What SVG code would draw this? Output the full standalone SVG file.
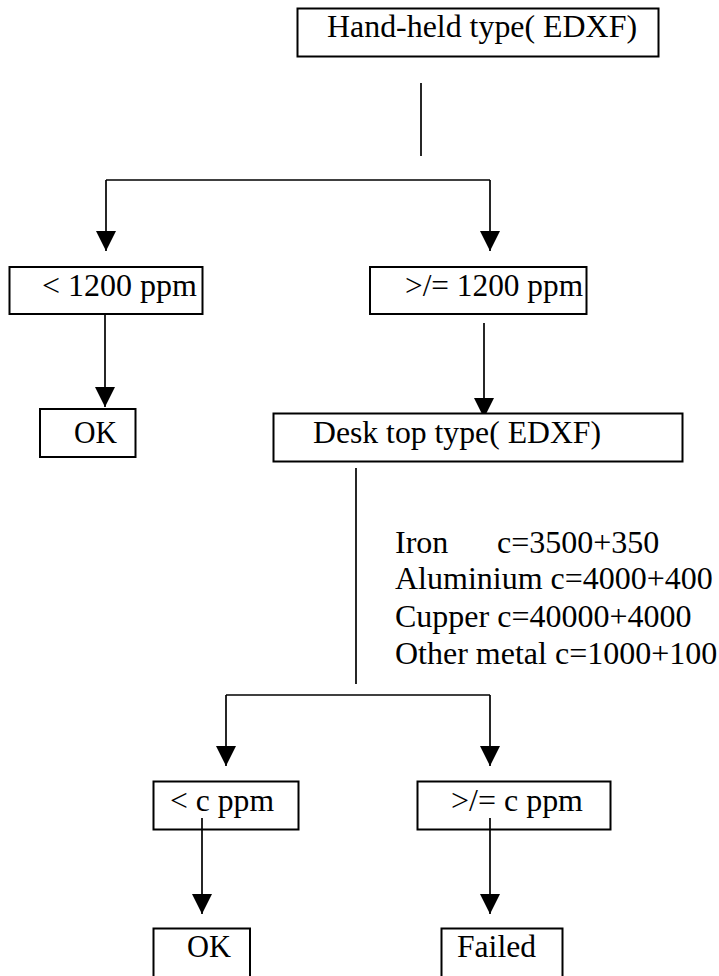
<svg xmlns="http://www.w3.org/2000/svg" width="719" height="976" viewBox="0 0 719 976">
<style>
.box{fill:#fff;stroke:#000;stroke-width:2}
.lbl{font-family:"Liberation Serif","Times New Roman",serif;font-size:32px;fill:#000}
.ln{fill:none;stroke:#000;stroke-width:1.7}
</style>
<defs>
<marker id="ah" markerUnits="userSpaceOnUse" markerWidth="20" markerHeight="20" viewBox="0 0 20 20" refX="20" refY="10" orient="auto">
<path d="M0,0 L20,10 L0,20 z" fill="#000"/>
</marker>
</defs>
<rect width="719" height="976" fill="#fff"/>
<g id="connectors">
<line class="ln" x1="421" y1="83" x2="421" y2="156"/>
<line class="ln" x1="106" y1="180" x2="490" y2="180"/>
<line class="ln" x1="106" y1="180" x2="106" y2="251" marker-end="url(#ah)"/>
<line class="ln" x1="490" y1="180" x2="490" y2="251" marker-end="url(#ah)"/>
<line class="ln" x1="105" y1="313" x2="105" y2="407" marker-end="url(#ah)"/>
<line class="ln" x1="484" y1="323" x2="484" y2="418" marker-end="url(#ah)"/>
<line class="ln" x1="356" y1="468" x2="356" y2="684"/>
<line class="ln" x1="226" y1="695" x2="490" y2="695"/>
<line class="ln" x1="226" y1="695" x2="226" y2="766" marker-end="url(#ah)"/>
<line class="ln" x1="490" y1="695" x2="490" y2="766" marker-end="url(#ah)"/>
</g>
<g id="handheld">
<rect class="box" x="297.5" y="8.5" width="361" height="48"/>
<text class="lbl" x="327" y="37" font-size="30" textLength="310" lengthAdjust="spacingAndGlyphs">Hand-held type( EDXF)</text>
</g>
<g id="lt1200">
<rect class="box" x="9.5" y="267" width="193" height="47"/>
<text class="lbl" x="42" y="296" font-size="28" textLength="155" lengthAdjust="spacingAndGlyphs">&lt; 1200 ppm</text>
</g>
<g id="ge1200">
<rect class="box" x="370" y="267" width="216.5" height="47"/>
<text class="lbl" x="405" y="296" font-size="28" textLength="178" lengthAdjust="spacingAndGlyphs">&gt;/= 1200 ppm</text>
</g>
<g id="ok1">
<rect class="box" x="40" y="409" width="95.5" height="48"/>
<text class="lbl" x="74" y="443" font-size="30" textLength="43" lengthAdjust="spacingAndGlyphs">OK</text>
</g>
<g id="desktop">
<rect class="box" x="273.5" y="413.5" width="409" height="48"/>
<text class="lbl" x="313" y="443" font-size="31" textLength="288" lengthAdjust="spacingAndGlyphs">Desk top type( EDXF)</text>
</g>
<g id="metals">
<text class="lbl" x="395" y="553">Iron<tspan x="497">c=3500+350</tspan></text>
<text class="lbl" x="395" y="589">Aluminium c=4000+400</text>
<text class="lbl" x="395" y="627">Cupper c=40000+4000</text>
<text class="lbl" x="395" y="664">Other metal c=1000+100</text>
</g>
<g id="ltc">
<rect class="box" x="153.5" y="781.5" width="145" height="48"/>
<text class="lbl" x="170" y="811" font-size="31" textLength="104" lengthAdjust="spacingAndGlyphs">&lt; c ppm</text>
</g>
<g id="gec">
<rect class="box" x="417.5" y="781.5" width="193" height="48"/>
<text class="lbl" x="451" y="811" font-size="31" textLength="132" lengthAdjust="spacingAndGlyphs">&gt;/= c ppm</text>
</g>
<g id="connectors2">
<line class="ln" x1="202" y1="818" x2="202" y2="914" marker-end="url(#ah)"/>
<line class="ln" x1="490" y1="818" x2="490" y2="914" marker-end="url(#ah)"/>
</g>
<g id="ok2">
<rect class="box" x="153.5" y="928.5" width="96.5" height="60"/>
<text class="lbl" x="187" y="957" font-size="31" textLength="44" lengthAdjust="spacingAndGlyphs">OK</text>
</g>
<g id="failed">
<rect class="box" x="441.5" y="928.5" width="121" height="60"/>
<text class="lbl" x="457" y="957" font-size="31" textLength="79" lengthAdjust="spacingAndGlyphs">Failed</text>
</g>
</svg>
